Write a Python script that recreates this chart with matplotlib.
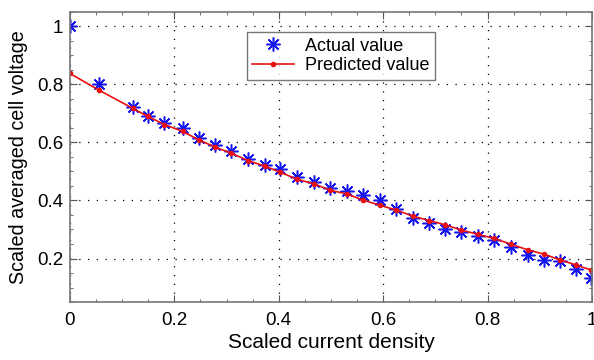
import matplotlib
matplotlib.use("Agg")
import matplotlib.pyplot as plt
from matplotlib.ticker import MultipleLocator

plt.rcParams['font.family'] = ['Liberation Sans', 'DejaVu Sans']

# scaled current density (x) with actual and predicted scaled cell voltage
current_density = [0.0, 0.056, 0.120, 0.149, 0.181, 0.216, 0.247, 0.278, 0.308,
                   0.342, 0.374, 0.402, 0.434, 0.468, 0.499, 0.530, 0.562, 0.593,
                   0.625, 0.657, 0.688, 0.719, 0.750, 0.782, 0.813, 0.845, 0.877,
                   0.908, 0.939, 0.969, 0.999]
actual_voltage = [1.000, 0.800, 0.722, 0.692, 0.666, 0.649, 0.617, 0.592, 0.571,
                  0.543, 0.523, 0.510, 0.480, 0.464, 0.442, 0.432, 0.418, 0.403,
                  0.369, 0.338, 0.324, 0.301, 0.293, 0.278, 0.263, 0.240, 0.212,
                  0.194, 0.190, 0.164, 0.133]
predicted_voltage = [0.838, 0.780, 0.718, 0.690, 0.662, 0.638, 0.609, 0.584, 0.564,
                     0.537, 0.518, 0.498, 0.474, 0.457, 0.435, 0.423, 0.401, 0.384,
                     0.367, 0.346, 0.331, 0.316, 0.298, 0.283, 0.269, 0.249, 0.230,
                     0.215, 0.195, 0.178, 0.160]

fig = plt.figure(figsize=(5.94, 3.6), dpi=100)
ax = fig.add_axes([0.1178, 0.1611, 0.8788, 0.8056])

# MATLAB-style asterisk marker
ax.plot(current_density, actual_voltage, linestyle='none', marker=(8, 2, 0),
        color='#1515f0', markersize=10, markeredgewidth=1.1, label='Actual value')
ax.plot(current_density, predicted_voltage, color='#e81010', linewidth=1.2,
        marker='o', markersize=3, label='Predicted value')

ax.set_xlim(0, 1)
ax.set_ylim(0.05, 1.05)
ax.set_xticks([0, 0.2, 0.4, 0.6, 0.8, 1])
ax.set_xticklabels(['0', '0.2', '0.4', '0.6', '0.8', '1'])
ax.set_yticks([0.2, 0.4, 0.6, 0.8, 1])
ax.set_yticklabels(['0.2', '0.4', '0.6', '0.8', '1'])
ax.yaxis.set_minor_locator(MultipleLocator(0.05))
ax.xaxis.set_minor_locator(MultipleLocator(0.05))

ax.grid(True, which='major', linestyle=(0, (1, 6)), color='black', linewidth=0.9)
ax.tick_params(which='both', direction='in', top=True, right=True,
               labelsize=13.5, color='#555555')
ax.tick_params(axis='y', pad=5)
ax.tick_params(axis='x', pad=7)
ax.tick_params(which='major', length=5)
ax.tick_params(which='minor', length=2.5)
for s in ax.spines.values():
    s.set_color('#777777')
    s.set_linewidth(1.2)

ax.set_xlabel('Scaled current density', fontsize=15, labelpad=3)
ax.set_ylabel('Scaled averaged cell voltage', fontsize=14.2, labelpad=6)

leg = ax.legend(loc='upper left', bbox_to_anchor=(0.339, 0.93), fontsize=13,
                frameon=True, fancybox=False, borderpad=0.3, labelspacing=0.15,
                handlelength=2.3, handletextpad=0.6, borderaxespad=0)
leg.get_frame().set_edgecolor('#555555')
leg.get_frame().set_linewidth(1.0)

fig.savefig('out.png', dpi=100)
